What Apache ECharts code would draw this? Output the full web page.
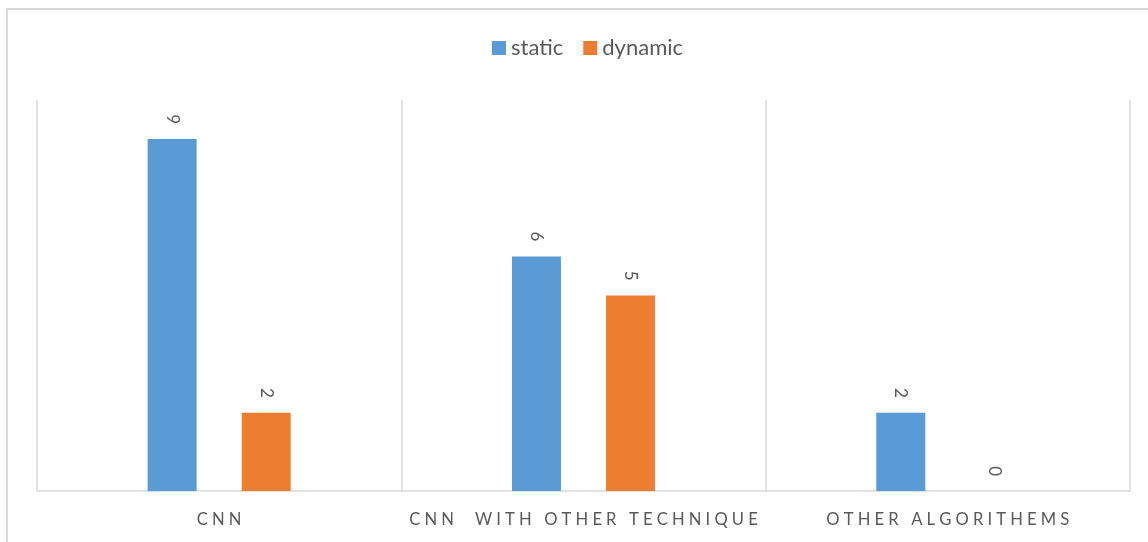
<!DOCTYPE html>
<html>
<head>
<meta charset="utf-8">
<script src="https://cdn.jsdelivr.net/npm/echarts@6/dist/echarts.min.js"></script>
<style>
  html, body { margin: 0; padding: 0; background: #fff; }
  #chart { width: 1148px; height: 542px; }
</style>
</head>
<body>
<div id="chart"></div>
<script>
const categories = ["CNN", "CNN  WITH OTHER TECHNIQUE", "OTHER ALGORITHEMS"];
const staticValues = [9, 6, 2];
const dynamicValues = [2, 5, 0];

const FONT = "Lato, 'Open Sans', sans-serif";
// excel-style letter spacing on the category labels
const spaced = (s) => s.split("").join("\u2009\u2009");

const chart = echarts.init(document.getElementById("chart"), null, { renderer: "canvas" });

const barLabel = {
  show: true,
  position: "top",
  rotate: -90,
  align: "right",
  verticalAlign: "middle",
  distance: 15,
  color: "#595959",
  fontFamily: FONT,
  fontSize: 17,
};

chart.setOption({
  animation: false,
  backgroundColor: "#fff",
  graphic: [{
    type: "rect",
    shape: { x: 7, y: 9, width: 1200, height: 600 },
    style: { fill: "none", stroke: "#d9d9d9", lineWidth: 2 },
    silent: true,
  }],
  legend: {
    top: 32,
    left: 487,
    icon: "rect",
    itemWidth: 14,
    itemHeight: 14,
    itemGap: 20,
    textStyle: { color: "#595959", fontFamily: FONT, fontSize: 22 },
  },
  grid: { left: 37, right: 18, top: 100, bottom: 51 },
  xAxis: {
    type: "category",
    data: categories,
    axisTick: { show: false },
    axisLine: { lineStyle: { color: "#d9d9d9", width: 1.5 } },
    splitLine: { show: true, interval: 0, lineStyle: { color: "#d9d9d9", width: 1.5 } },
    axisLabel: {
      interval: 0,
      hideOverlap: false,
      margin: 20,
      color: "#595959",
      fontFamily: FONT,
      fontSize: 16.6,
      formatter: spaced,
    },
  },
  yAxis: {
    type: "value",
    min: 0,
    max: 10,
    show: false,
    splitLine: { show: false },
  },
  series: [
    {
      name: "static",
      type: "bar",
      data: staticValues,
      barWidth: 49,
      barGap: "92%",
      itemStyle: { color: "#5B9BD5" },
      label: barLabel,
    },
    {
      name: "dynamic",
      type: "bar",
      data: dynamicValues,
      barWidth: 49,
      itemStyle: { color: "#ED7D31" },
      label: barLabel,
    },
  ],
});
</script>
</body>
</html>
